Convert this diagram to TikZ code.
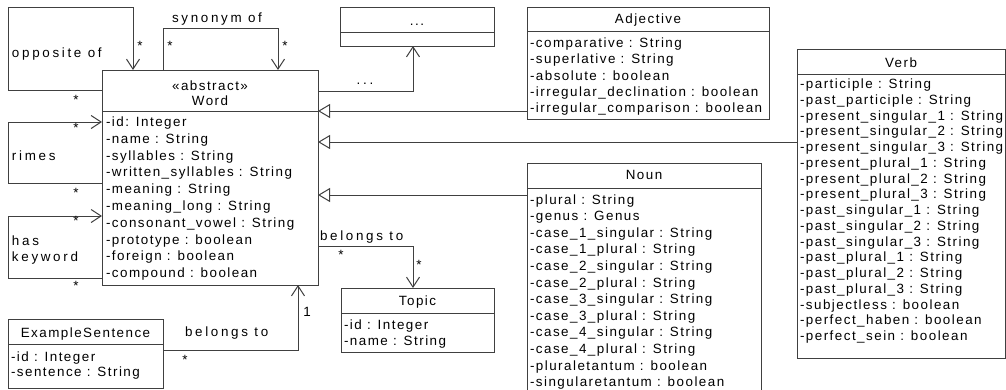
\documentclass[tikz,border=0pt]{standalone}
\usepackage{fontspec}
\setmainfont{Liberation Sans}[LetterSpace=11]
\newfontfamily\lblfont{Liberation Sans}[LetterSpace=20]
\usetikzlibrary{arrows.meta}
\tikzset{
  x=1pt, y=-1pt,
  ln/.style={draw=black!75, line width=1pt},
  cls/.style={ln, fill=white, rectangle, inner sep=0pt, outer sep=0pt, anchor=north west},
  txt/.style={inner sep=0pt, outer sep=0pt, font=\fontsize{13.4}{15}\selectfont, text=black},
  attr/.style={txt, anchor=base west},
  ttl/.style={txt, anchor=base},
  lbl/.style={txt, font=\fontsize{13.4}{15}\lblfont, anchor=base west},
  mult/.style={txt, anchor=base},
  assoc/.style={ln, -{Straight Barb[length=10pt,width=13pt]}},
  gen/.style={ln, -{Triangle[open,length=12pt,width=14pt]}},
}
\newcommand\clsbox[5]{\node[cls, minimum width={#4-#2}, minimum height={#5-#3}] (#1) at (#2,#3) {};}
\newcommand\sepline[2]{\draw[ln] (#1.west |- 0,#2) -- (#1.east |- 0,#2);}
\newcommand\attrlist[5]{\foreach \t [count=\i] in {#5} {\node[attr] (#1-\i) at (#2,{#3+(\i-1)*#4}) {\t};}}
\begin{document}
\begin{tikzpicture}
\clip (0,0) rectangle (1006,389);
\fill[white] (0,0) rectangle (1006,389);

% Word
\clsbox{word}{102}{70}{318}{285}
\node[ttl] (word-st) at (210,90) {«abstract»};
\node[ttl] (word-t) at (210,105) {Word};
\sepline{word}{111}
\attrlist{word}{106}{126.5}{16.8}{-id: Integer,-name : String,-syllables : String,-written\_syllables : String,-meaning : String,-meaning\_long : String,-consonant\_vowel : String,-prototype : boolean,-foreign : boolean,-compound : boolean}

% ... box
\clsbox{dots}{340}{7}{494}{46}
\node[ttl] (dots-t) at (417,25) {...};
\sepline{dots}{32}

% Adjective
\clsbox{adj}{527}{7}{769}{119}
\node[ttl] (adj-t) at (648,23.5) {Adjective};
\sepline{adj}{31}
\attrlist{adj}{530}{47.5}{16.3}{-comparative : String,-superlative : String,-absolute : boolean,-irregular\_declination : boolean,-irregular\_comparison : boolean}

% Verb
\clsbox{verb}{797}{49}{1005}{358}
\node[ttl] (verb-t) at (901,67.5) {Verb};
\sepline{verb}{74}
\attrlist{verb}{800}{88.5}{15.76}{-participle : String,-past\_participle : String,-present\_singular\_1 : String,-present\_singular\_2 : String,-present\_singular\_3 : String,-present\_plural\_1 : String,-present\_plural\_2 : String,-present\_plural\_3 : String,-past\_singular\_1 : String,-past\_singular\_2 : String,-past\_singular\_3 : String,-past\_plural\_1 : String,-past\_plural\_2 : String,-past\_plural\_3 : String,-subjectless : boolean,-perfect\_haben : boolean,-perfect\_sein : boolean}

% Noun
\clsbox{noun}{527}{163}{761}{400}
\node[ttl] (noun-t) at (644,179.5) {Noun};
\sepline{noun}{188}
\attrlist{noun}{530}{204}{16.6}{-plural : String,-genus : Genus,-case\_1\_singular : String,-case\_1\_plural : String,-case\_2\_singular : String,-case\_2\_plural : String,-case\_3\_singular : String,-case\_3\_plural : String,-case\_4\_singular : String,-case\_4\_plural : String,-pluraletantum : boolean,-singularetantum : boolean}

% Topic
\clsbox{topic}{341}{288}{494}{352}
\node[ttl] (topic-t) at (417.5,305.5) {Topic};
\sepline{topic}{313}
\attrlist{topic}{344}{329}{16}{-id : Integer,-name : String}

% ExampleSentence
\clsbox{ex}{8}{319}{163}{388}
\node[ttl] (ex-t) at (85.5,337.5) {ExampleSentence};
\sepline{ex}{344}
\attrlist{ex}{11}{361}{15}{-id : Integer,-sentence : String}

% opposite of
\draw[assoc] (word.west |- 0,90) -| (8,7) -| (word.north -| 133,0);
\node[lbl] (l-opp) at (12,57) {opposite of};
\node[mult] (m-opp1) at (140,50) {*};
\node[mult] (m-opp2) at (76,104) {*};

% synonym of
\draw[assoc] (word.north -| 163,0) |- (278,28) -- (word.north -| 278,0);
\node[lbl, anchor=base] (l-syn) at (217,22.5) {synonym of};
\node[mult] (m-syn1) at (170,50) {*};
\node[mult] (m-syn2) at (285,50) {*};

% rimes
\draw[assoc] (word.west |- 0,183) -| (8,122) -- (word.west |- 0,122);
\node[lbl] (l-rim) at (12,160) {rimes};
\node[mult] (m-rim1) at (76,132) {*};
\node[mult] (m-rim2) at (76,197) {*};

% has keyword
\draw[assoc] (word.west |- 0,278) -| (8,216) -- (word.west |- 0,216);
\node[lbl] (l-hk1) at (12,245) {has};
\node[lbl] (l-hk2) at (12,261.5) {keyword};
\node[mult] (m-hk1) at (76,225) {*};
\node[mult] (m-hk2) at (76,290) {*};

% ... association
\draw[assoc] (word.east |- 0,91) -| (dots.south -| 413,0);
\node[lbl, anchor=base] (l-dots) at (365,84.5) {...};

% generalizations
\draw[gen] (adj.west |- 0,111) -- (word.east |- 0,111);
\draw[gen] (verb.west |- 0,142) -- (word.east |- 0,142);
\draw[gen] (noun.west |- 0,195) -- (word.east |- 0,195);

% belongs to (Topic)
\draw[assoc] (word.east |- 0,246) -| (topic.north -| 413,0);
\node[lbl] (l-bt1) at (320,240.5) {belongs to};
\node[mult] (m-bt1) at (341,259) {*};
\node[mult] (m-bt2) at (419,269) {*};

% belongs to (ExampleSentence)
\draw[assoc] (ex.east |- 0,350) -| (word.south -| 298,0);
\node[lbl] (l-bt2) at (185,336.5) {belongs to};
\node[mult] (m-bt3) at (185,364) {*};
\node[mult] (m-bt4) at (307,316.5) {1};
\end{tikzpicture}
\end{document}
